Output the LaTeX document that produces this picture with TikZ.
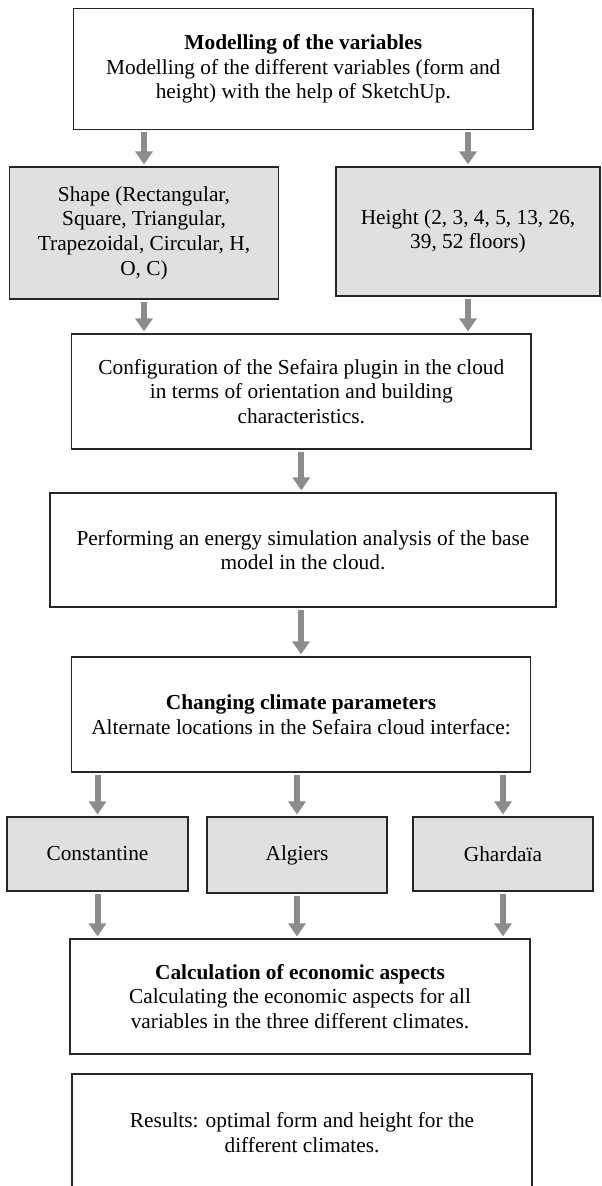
\documentclass[tikz,border=0pt]{standalone}
\usepackage{fontspec}
\setmainfont{Liberation Serif}
\usetikzlibrary{arrows.meta,positioning}
\definecolor{arrowgray}{RGB}{140,140,140}
\definecolor{boxgray}{RGB}{224,224,224}

\begin{document}
\begin{tikzpicture}[
  x=0.75pt, y=-0.75pt,
  font=\fontsize{16}{18.5}\selectfont,
  stage/.style={draw=black!85, fill=white, align=center, line width=0.9pt, inner sep=0pt},
  var/.style  ={stage, fill=boxgray},
  flow/.style ={-{Triangle[width=12.75pt,length=9.75pt]}, line width=4.5pt, draw=arrowgray,
                shorten <=1.5pt, shorten >=1.5pt},
]
\useasboundingbox (0,0) rectangle (601,1186);
\clip (0,0) rectangle (601,1186);

% Modelling step and its two variables
\node[stage, minimum width=344.6pt, minimum height=91.1pt] (model) at (303.3,69)
  {\textbf{Modelling of the variables}\\
   Modelling of the different variables (form and\\
   height) with the help of SketchUp.};
\node[var, minimum width=201.75pt, minimum height=99pt] (shape) at (144,233)
  {Shape (Rectangular,\\Square, Triangular,\\Trapezoidal, Circular, H,\\O, C)};
\node[var, minimum width=198pt, minimum height=96.75pt] (height) at (468,231.5)
  {Height (2, 3, 4, 5, 13, 26,\\39, 52 floors)};

% Sefaira set-up and simulation
\node[stage, minimum width=344.6pt, minimum height=86.25pt] (config) at (301.3,391.5)
  {Configuration of the Sefaira plugin in the cloud\\
   in terms of orientation and building\\
   characteristics.};
\node[stage, minimum width=379.5pt, minimum height=85.5pt] (perf) at (303,550)
  {Performing an energy simulation analysis of the base\\
   model in the cloud.};

% Climates
\node[stage, minimum width=344.25pt, minimum height=86.25pt] (climate) at (301,714.5)
  {\textbf{Changing climate parameters}\\
   Alternate locations in the Sefaira cloud interface:};
\node[var, minimum width=135.75pt, minimum height=55.5pt] (const) at (97.5,854) {Constantine};
\node[var, minimum width=135pt, minimum height=57pt]      (alg)   at (297,855)  {Algiers};
\node[var, minimum width=135pt, minimum height=55.5pt]    (ghar)  at (503,854)  {Ghardaïa};

% Economic aspects and results (the last box runs off the page)
\node[stage, minimum width=345pt, minimum height=86.25pt] (calc) at (300,996.5)
  {\textbf{Calculation of economic aspects}\\
   Calculating the economic aspects for all\\
   variables in the three different climates.};
\node[stage, minimum width=345pt, minimum height=87.75pt] (results) at (302,1132.5)
  {Results: optimal form and height for the\\
   different climates.};

% Arrows
\draw[flow] (model.south -| shape)   -- (shape.north);
\draw[flow] (model.south -| height)  -- (height.north);
\draw[flow] (shape.south)  -- (shape.south |- config.north);
\draw[flow] (height.south) -- (height.south |- config.north);
\draw[flow] (config.south) -- (config.south |- perf.north);
\draw[flow] (perf.south -| climate)  -- (climate.north);
\draw[flow] (climate.south -| const) -- (const.north);
\draw[flow] (climate.south -| alg)   -- (alg.north);
\draw[flow] (climate.south -| ghar)  -- (ghar.north);
\draw[flow] (const.south) -- (const.south |- calc.north);
\draw[flow] (alg.south)   -- (alg.south |- calc.north);
\draw[flow] (ghar.south)  -- (ghar.south |- calc.north);
\end{tikzpicture}
\end{document}
